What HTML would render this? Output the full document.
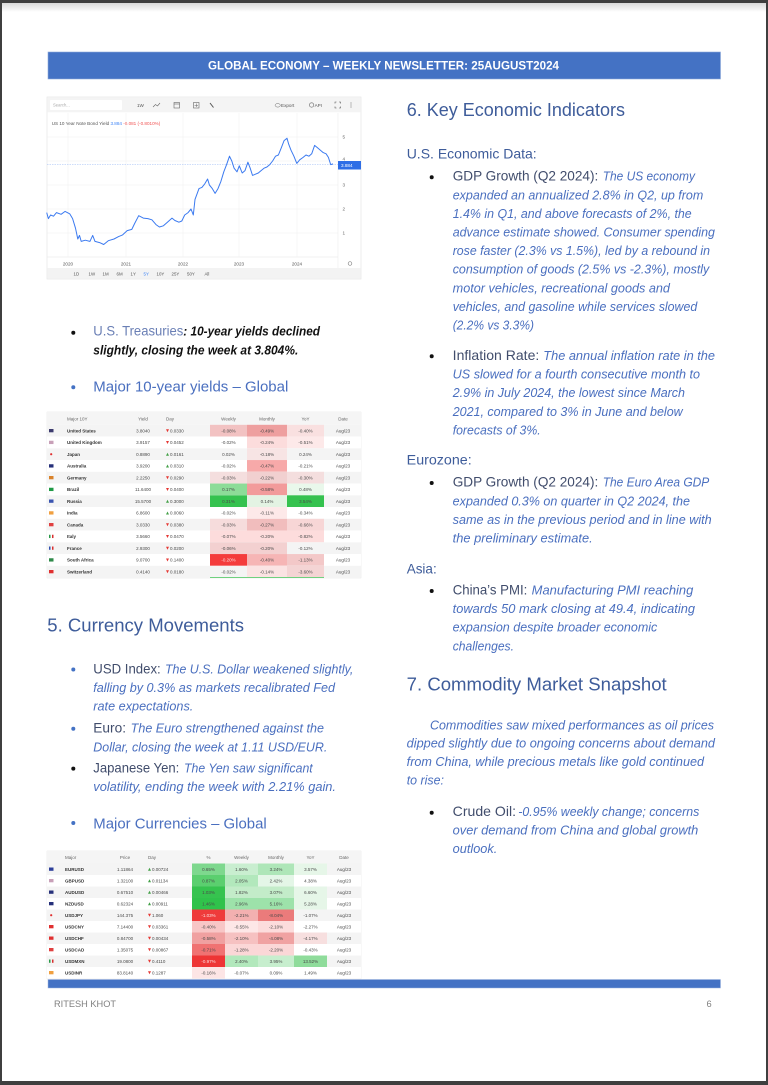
<!DOCTYPE html>
<html><head><meta charset="utf-8">
<style>
html,body{margin:0;padding:0;background:#3f3f3f;width:768px;height:1085px;overflow:hidden}
svg{display:block}
.ld{font-size:13.6px;fill:#414d6c}
.it{font-size:12.5px;font-style:italic;fill:#4a6fbf}
.hd{font-size:18.4px;fill:#3e5c9a}
.sh{font-size:14px;fill:#3e5c9a}
.t text{font-size:4.5px;fill:#4a4a4a}
.t .n{font-weight:bold;fill:#333}
.t .m{text-anchor:middle}
.t .h{fill:#666}
</style></head>
<body>
<svg width="768" height="1085" viewBox="0 0 768 1085" xmlns="http://www.w3.org/2000/svg" font-family="Liberation Sans, Arial, sans-serif">
<defs>
<linearGradient id="sh" x1="0" y1="0" x2="0" y2="1"><stop offset="0" stop-color="#d9d9d9"/><stop offset="1" stop-color="#ffffff"/></linearGradient>
</defs>
<rect x="0" y="0" width="768" height="1085" fill="#3f3f3f"/>
<rect x="2" y="3" width="764" height="1078" fill="#ffffff"/>
<rect x="2" y="3" width="764" height="9" fill="url(#sh)"/>

<!-- header -->
<rect x="48" y="52" width="672.5" height="27" fill="#4472c4" stroke="#8eaadb" stroke-width="0.6"/>
<text x="208" y="69.3" font-size="11.5" font-weight="bold" fill="#ffffff" textLength="351" lengthAdjust="spacingAndGlyphs">GLOBAL ECONOMY – WEEKLY NEWSLETTER: 25AUGUST2024</text>

<!-- ============ CHART ============ -->
<g>
<rect x="47" y="97" width="314" height="182" fill="#fff" stroke="#e2e2e2" stroke-width="0.6"/>
<rect x="47.3" y="97.3" width="313.4" height="15" fill="#f4f4f4"/>
<rect x="50" y="100" width="72" height="10" fill="#fff" rx="1"/>
<text x="53" y="106.6" font-size="4.2" fill="#aaa">Search...</text>
<text x="137" y="106.8" font-size="4.6" fill="#555">1W</text>
<polyline points="153,107 155.5,104.5 157.5,106 160,103" stroke="#666" stroke-width="0.6" fill="none"/>
<rect x="174" y="102.5" width="5.5" height="5.5" stroke="#666" stroke-width="0.6" fill="none"/>
<line x1="174" y1="104" x2="179.5" y2="104" stroke="#666" stroke-width="0.6"/>
<rect x="193.5" y="102.5" width="5.5" height="5.5" stroke="#666" stroke-width="0.6" fill="none"/>
<line x1="196.25" y1="103.5" x2="196.25" y2="107" stroke="#666" stroke-width="0.5"/>
<line x1="194.5" y1="105.25" x2="198" y2="105.25" stroke="#666" stroke-width="0.5"/>
<line x1="210" y1="103" x2="213.5" y2="107.5" stroke="#555" stroke-width="1"/>
<ellipse cx="277.7" cy="105.3" rx="2.6" ry="1.8" fill="none" stroke="#666" stroke-width="0.5"/>
<text x="281" y="106.8" font-size="4.6" fill="#555">Export</text>
<circle cx="311.6" cy="105" r="2.2" fill="none" stroke="#666" stroke-width="0.6"/>
<text x="314.6" y="106.8" font-size="4.6" fill="#555">API</text>
<path d="M335,103.5v-1.5h1.5 M339,102h1.5v1.5 M340.5,106.5v1.5h-1.5 M336.5,108h-1.5v-1.5" stroke="#555" stroke-width="0.6" fill="none"/>
<circle cx="351" cy="103" r="0.5" fill="#555"/><circle cx="351" cy="105" r="0.5" fill="#555"/><circle cx="351" cy="107" r="0.5" fill="#555"/>
<text x="51.7" y="124.8" font-size="4.6" fill="#555">US 10 Year Note Bond Yield <tspan fill="#3b82f6">3.884</tspan><tspan fill="#f05252"> -0.081 (-0.8010%)</tspan></text>
<g stroke="#efefef" stroke-width="0.5">
<line x1="47" y1="137" x2="338" y2="137"/><line x1="47" y1="161" x2="338" y2="161"/><line x1="47" y1="185" x2="338" y2="185"/><line x1="47" y1="209" x2="338" y2="209"/><line x1="47" y1="233" x2="338" y2="233"/>
<line x1="68" y1="113" x2="68" y2="257"/><line x1="126" y1="113" x2="126" y2="257"/><line x1="183" y1="113" x2="183" y2="257"/><line x1="239" y1="113" x2="239" y2="257"/><line x1="297" y1="113" x2="297" y2="257"/>
</g>
<line x1="47" y1="257" x2="338" y2="257" stroke="#e6e6e6" stroke-width="0.6"/>
<line x1="338" y1="113" x2="338" y2="268" stroke="#ececec" stroke-width="0.6"/>
<g font-size="4.6" fill="#666">
<text x="342.5" y="138.6">5</text><text x="342.5" y="160.6">4</text><text x="342.5" y="186.6">3</text><text x="342.5" y="210.6">2</text><text x="342.5" y="234.6">1</text>
</g>
<g font-size="4.6" fill="#555" text-anchor="middle">
<text x="68" y="265.5">2020</text><text x="126" y="265.5">2021</text><text x="183" y="265.5">2022</text><text x="239" y="265.5">2023</text><text x="297" y="265.5">2024</text>
</g>
<circle cx="350" cy="263.5" r="1.8" fill="none" stroke="#888" stroke-width="0.7"/>
<line x1="47" y1="164.5" x2="338" y2="164.5" stroke="#9dbcf5" stroke-width="0.6" stroke-dasharray="1.5 1"/>
<polyline fill="none" stroke="#3b7af0" stroke-width="1" stroke-linejoin="round" points="46.7,212.6 48.4,218.6 50.6,215 53.5,216.2 56.5,212.6 61.1,214.3 65.1,211.4 69.7,213.8 72.6,218.6 75.5,228.2 77.8,239 79.5,235.4 81.2,241.4 85.3,240.2 89.9,241.4 92.7,235.4 95,241.4 99.6,242.6 103.7,244.5 108.3,240.7 114,239 118.6,236.6 122.6,234.9 127.2,230.6 131.8,229.4 134.7,223.4 138.7,215.7 143.3,218.1 147.9,218.6 151.9,219.8 156,224.6 159.4,227 163.4,225.8 167.4,222.2 172,218.1 174.9,220.5 178.9,222.2 181.8,221 184.7,215 188.1,212.6 191,209 193.3,215 195,199.4 199,188.6 201.9,187.4 204.8,183.8 207.6,179 209.4,185 212.3,188.6 215.1,193.4 218,188.6 220.9,181.4 223.8,171.8 226.6,164.6 229.5,156.2 231.8,161 234.1,168.2 237,171.8 239.3,165.8 242.2,173 245,170.6 247.9,162.2 250.2,168.2 252.5,175.4 255.4,174.2 258.3,173 261.1,170.6 264,168.2 266.9,167 269.8,164.6 272.6,161 275.5,156.2 278.4,155 281.3,147.8 284.1,140.6 287,138.2 288.7,144.2 291,150.2 293.9,156.2 296.8,163.4 299.7,159.8 303.1,157.4 306,155 308.9,156.2 311.7,153.8 314.6,145.4 317.5,147.8 320.4,150.2 323.2,152.6 326.1,153.8 328.4,157.4 330.7,164.6 333,163.9"/>
<rect x="338" y="161" width="23" height="8.5" fill="#2e6ee6"/>
<text x="341" y="167" font-size="4.6" fill="#fff">3.884</text>
<rect x="47.3" y="268" width="313.4" height="10.7" fill="#f3f3f3"/>
<g font-size="4.4" fill="#555">
<text x="73.5" y="275.3">1D</text><text x="88.5" y="275.3">1W</text><text x="102.5" y="275.3">1M</text><text x="116.5" y="275.3">6M</text><text x="130.5" y="275.3">1Y</text><text x="143.5" y="275.3" fill="#3b82f6">5Y</text><text x="156.5" y="275.3">10Y</text><text x="171.5" y="275.3">25Y</text><text x="187" y="275.3">50Y</text><text x="204.5" y="275.3">All</text>
</g>
</g>

<!-- ============ LEFT TEXT ============ -->
<circle cx="73.3" cy="332.7" r="2" fill="#111"/>
<text x="93.3" y="335.5" font-size="13.6" fill="#6a7fb5" textLength="90" lengthAdjust="spacingAndGlyphs">U.S. Treasuries</text>
<text x="183.3" y="335.5" font-size="12.5" font-weight="bold" font-style="italic" fill="#111" textLength="136.7" lengthAdjust="spacingAndGlyphs">: 10-year yields declined</text>
<text x="93.3" y="354.5" font-size="12.5" font-weight="bold" font-style="italic" fill="#111" textLength="205" lengthAdjust="spacingAndGlyphs">slightly, closing the week at 3.804%.</text>
<circle cx="73.3" cy="387.3" r="2" fill="#4472c4"/>
<text x="93.3" y="391.7" font-size="14.6" fill="#4a6fbf" textLength="195" lengthAdjust="spacingAndGlyphs">Major 10-year yields – Global</text>

<!-- ============ YIELDS TABLE ============ -->
<g class="t">
<rect x="47" y="412" width="314" height="166" fill="#fff" stroke="#e6e6e6" stroke-width="0.5"/>
<rect x="47" y="412" width="314" height="12.8" fill="#f5f5f5"/>
<text x="67" y="420.3" class="h">Major 10Y</text><text x="143" y="420.3" class="h m">Yield</text><text x="166" y="420.3" class="h">Day</text><text x="228.5" y="420.3" class="h m">Weekly</text><text x="267" y="420.3" class="h m">Monthly</text><text x="305.5" y="420.3" class="h m">YoY</text><text x="343" y="420.3" class="h m">Date</text>

<g transform="translate(0,424.8)"><rect x="47" width="314" height="11.75" fill="#f4f4f4"/><rect x="210" width="37" height="11.75" fill="#f2c2c2"/><rect x="247" width="40" height="11.75" fill="#ee9f9f"/><rect x="287" width="37" height="11.75" fill="#f9e0e0"/><rect x="49" y="4.2" width="4.5" height="3.3" fill="#3c3b6e"/><text x="67" y="7.6" class="n">United States</text><text x="143" y="7.6" class="m">3.8040</text><polygon points="166,4.5 169,4.5 167.5,7.5" fill="#e53935"/><text x="170" y="7.6">0.0330</text><text x="228.5" y="7.6" class="m">-0.08%</text><text x="267" y="7.6" class="m">-0.49%</text><text x="305.5" y="7.6" class="m">-0.40%</text><text x="343" y="7.6" class="m">Aug/23</text></g>
<g transform="translate(0,436.55)"><rect x="47" width="314" height="11.75" fill="#fff"/><rect x="247" width="40" height="11.75" fill="#fcdcdc"/><rect x="287" width="37" height="11.75" fill="#fde9e9"/><rect x="49" y="4.2" width="4.5" height="3.3" fill="#c8a0b8"/><text x="67" y="7.6" class="n">United Kingdom</text><text x="143" y="7.6" class="m">3.9157</text><polygon points="166,4.5 169,4.5 167.5,7.5" fill="#e53935"/><text x="170" y="7.6">0.0452</text><text x="228.5" y="7.6" class="m">-0.02%</text><text x="267" y="7.6" class="m">-0.24%</text><text x="305.5" y="7.6" class="m">-0.51%</text><text x="343" y="7.6" class="m">Aug/23</text></g>
<g transform="translate(0,448.3)"><rect x="47" width="314" height="11.75" fill="#f4f4f4"/><rect x="247" width="40" height="11.75" fill="#f7e4e4"/><circle cx="51.2" cy="5.9" r="1.1" fill="#e03030"/><text x="67" y="7.6" class="n">Japan</text><text x="143" y="7.6" class="m">0.8890</text><polygon points="166,7.5 169,7.5 167.5,4.5" fill="#43a047"/><text x="170" y="7.6">0.0161</text><text x="228.5" y="7.6" class="m">0.02%</text><text x="267" y="7.6" class="m">-0.18%</text><text x="305.5" y="7.6" class="m">0.24%</text><text x="343" y="7.6" class="m">Aug/23</text></g>
<g transform="translate(0,460.05)"><rect x="47" width="314" height="11.75" fill="#fff"/><rect x="247" width="40" height="11.75" fill="#f7a9a9"/><rect x="49" y="4.2" width="4.5" height="3.3" fill="#26307a"/><text x="67" y="7.6" class="n">Australia</text><text x="143" y="7.6" class="m">3.9200</text><polygon points="166,7.5 169,7.5 167.5,4.5" fill="#43a047"/><text x="170" y="7.6">0.0310</text><text x="228.5" y="7.6" class="m">-0.02%</text><text x="267" y="7.6" class="m">-0.47%</text><text x="305.5" y="7.6" class="m">-0.21%</text><text x="343" y="7.6" class="m">Aug/23</text></g>
<g transform="translate(0,471.8)"><rect x="47" width="314" height="11.75" fill="#f4f4f4"/><rect x="210" width="37" height="11.75" fill="#f4dede"/><rect x="247" width="40" height="11.75" fill="#f1d0d0"/><rect x="287" width="37" height="11.75" fill="#f4dede"/><rect x="49" y="4.2" width="4.5" height="3.3" fill="#d9822b"/><text x="67" y="7.6" class="n">Germany</text><text x="143" y="7.6" class="m">2.2250</text><polygon points="166,4.5 169,4.5 167.5,7.5" fill="#e53935"/><text x="170" y="7.6">0.0290</text><text x="228.5" y="7.6" class="m">-0.03%</text><text x="267" y="7.6" class="m">-0.22%</text><text x="305.5" y="7.6" class="m">-0.30%</text><text x="343" y="7.6" class="m">Aug/23</text></g>
<g transform="translate(0,483.55)"><rect x="47" width="314" height="11.75" fill="#fff"/><rect x="210" width="37" height="11.75" fill="#8ddc98"/><rect x="247" width="40" height="11.75" fill="#f29b9b"/><rect x="287" width="37" height="11.75" fill="#e9f8eb"/><rect x="49" y="4.2" width="4.5" height="3.3" fill="#1f9a45"/><text x="67" y="7.6" class="n">Brazil</text><text x="143" y="7.6" class="m">11.6400</text><polygon points="166,4.5 169,4.5 167.5,7.5" fill="#e53935"/><text x="170" y="7.6">0.0400</text><text x="228.5" y="7.6" class="m">0.17%</text><text x="267" y="7.6" class="m">-0.58%</text><text x="305.5" y="7.6" class="m">0.48%</text><text x="343" y="7.6" class="m">Aug/23</text></g>
<g transform="translate(0,495.3)"><rect x="47" width="314" height="11.75" fill="#f4f4f4"/><rect x="210" width="37" height="11.75" fill="#35c24f"/><rect x="247" width="40" height="11.75" fill="#e3f3e3"/><rect x="287" width="37" height="11.75" fill="#35c24f"/><rect x="49" y="4.2" width="4.5" height="3.3" fill="#3a55b0"/><text x="67" y="7.6" class="n">Russia</text><text x="143" y="7.6" class="m">15.5700</text><polygon points="166,7.5 169,7.5 167.5,4.5" fill="#43a047"/><text x="170" y="7.6">0.3000</text><text x="228.5" y="7.6" class="m">0.31%</text><text x="267" y="7.6" class="m">0.14%</text><text x="305.5" y="7.6" class="m">3.54%</text><text x="343" y="7.6" class="m">Aug/23</text></g>
<g transform="translate(0,507.05)"><rect x="47" width="314" height="11.75" fill="#fff"/><rect x="247" width="40" height="11.75" fill="#fde9e9"/><rect x="49" y="4.2" width="4.5" height="3.3" fill="#f0a040"/><text x="67" y="7.6" class="n">India</text><text x="143" y="7.6" class="m">6.8600</text><polygon points="166,7.5 169,7.5 167.5,4.5" fill="#43a047"/><text x="170" y="7.6">0.0060</text><text x="228.5" y="7.6" class="m">-0.02%</text><text x="267" y="7.6" class="m">-0.11%</text><text x="305.5" y="7.6" class="m">-0.34%</text><text x="343" y="7.6" class="m">Aug/23</text></g>
<g transform="translate(0,518.8)"><rect x="47" width="314" height="11.75" fill="#f4f4f4"/><rect x="210" width="37" height="11.75" fill="#f6dcdc"/><rect x="247" width="40" height="11.75" fill="#f1bdbd"/><rect x="287" width="37" height="11.75" fill="#f7d6d6"/><rect x="49" y="4.2" width="4.5" height="3.3" fill="#e04040"/><text x="67" y="7.6" class="n">Canada</text><text x="143" y="7.6" class="m">3.0330</text><polygon points="166,4.5 169,4.5 167.5,7.5" fill="#e53935"/><text x="170" y="7.6">0.0380</text><text x="228.5" y="7.6" class="m">-0.03%</text><text x="267" y="7.6" class="m">-0.27%</text><text x="305.5" y="7.6" class="m">-0.66%</text><text x="343" y="7.6" class="m">Aug/23</text></g>
<g transform="translate(0,530.55)"><rect x="47" width="314" height="11.75" fill="#fff"/><rect x="210" width="114" height="11.75" fill="#fddcdc"/><rect x="49" y="4.2" width="1.5" height="3.3" fill="#2a9a48"/><rect x="52" y="4.2" width="1.5" height="3.3" fill="#d83030"/><text x="67" y="7.6" class="n">Italy</text><text x="143" y="7.6" class="m">3.5660</text><polygon points="166,4.5 169,4.5 167.5,7.5" fill="#e53935"/><text x="170" y="7.6">0.0470</text><text x="228.5" y="7.6" class="m">-0.07%</text><text x="267" y="7.6" class="m">-0.20%</text><text x="305.5" y="7.6" class="m">-0.82%</text><text x="343" y="7.6" class="m">Aug/23</text></g>
<g transform="translate(0,542.3)"><rect x="47" width="314" height="11.75" fill="#f4f4f4"/><rect x="210" width="77" height="11.75" fill="#f3d0d0"/><rect x="49" y="4.2" width="1.5" height="3.3" fill="#3050b0"/><rect x="52" y="4.2" width="1.5" height="3.3" fill="#d83030"/><text x="67" y="7.6" class="n">France</text><text x="143" y="7.6" class="m">2.9300</text><polygon points="166,4.5 169,4.5 167.5,7.5" fill="#e53935"/><text x="170" y="7.6">0.0200</text><text x="228.5" y="7.6" class="m">-0.06%</text><text x="267" y="7.6" class="m">-0.20%</text><text x="305.5" y="7.6" class="m">-0.12%</text><text x="343" y="7.6" class="m">Aug/23</text></g>
<g transform="translate(0,554.05)"><rect x="47" width="314" height="11.75" fill="#fff"/><rect x="210" width="37" height="11.75" fill="#f43c3c"/><rect x="247" width="40" height="11.75" fill="#f6b5b5"/><rect x="287" width="37" height="11.75" fill="#f3c8c8"/><rect x="49" y="4.2" width="4.5" height="3.3" fill="#2f8a4a"/><text x="67" y="7.6" class="n">South Africa</text><text x="143" y="7.6" class="m">9.0700</text><polygon points="166,4.5 169,4.5 167.5,7.5" fill="#e53935"/><text x="170" y="7.6">0.1400</text><text x="228.5" y="7.6" class="m" style="fill:#fde0e0">-0.20%</text><text x="267" y="7.6" class="m">-0.40%</text><text x="305.5" y="7.6" class="m">-1.13%</text><text x="343" y="7.6" class="m">Aug/23</text></g>
<g transform="translate(0,565.8)"><rect x="47" width="314" height="11.75" fill="#f4f4f4"/><rect x="247" width="40" height="11.75" fill="#fbe3e3"/><rect x="287" width="37" height="11.75" fill="#f4d4d4"/><rect x="49" y="4.2" width="4.5" height="3.3" fill="#e03030"/><text x="67" y="7.6" class="n">Switzerland</text><text x="143" y="7.6" class="m">0.4140</text><polygon points="166,4.5 169,4.5 167.5,7.5" fill="#e53935"/><text x="170" y="7.6">0.0180</text><text x="228.5" y="7.6" class="m">-0.02%</text><text x="267" y="7.6" class="m">-0.14%</text><text x="305.5" y="7.6" class="m">-3.60%</text><text x="343" y="7.6" class="m">Aug/23</text></g>
<rect x="210" y="577" width="114" height="1" fill="#6fd17f"/>
</g>

<!-- ============ CURRENCY TEXT ============ -->
<text x="47.3" y="631.7" class="hd" textLength="196.7" lengthAdjust="spacingAndGlyphs">5. Currency Movements</text>
<circle cx="73.3" cy="669.5" r="2" fill="#4472c4"/>
<text x="93.3" y="673.3" class="ld" textLength="67.4" lengthAdjust="spacingAndGlyphs">USD Index:</text>
<text x="165" y="673.3" class="it" textLength="188.3" lengthAdjust="spacingAndGlyphs">The U.S. Dollar weakened slightly,</text>
<text x="93.3" y="692" class="it" textLength="241.7" lengthAdjust="spacingAndGlyphs">falling by 0.3% as markets recalibrated Fed</text>
<text x="93.3" y="710.7" class="it" textLength="100" lengthAdjust="spacingAndGlyphs">rate expectations.</text>
<circle cx="73.3" cy="728.8" r="2" fill="#4472c4"/>
<text x="93.3" y="732.7" class="ld" textLength="32.7" lengthAdjust="spacingAndGlyphs">Euro:</text>
<text x="130.7" y="732.7" class="it" textLength="193.3" lengthAdjust="spacingAndGlyphs">The Euro strengthened against the</text>
<text x="93.3" y="751.3" class="it" textLength="234" lengthAdjust="spacingAndGlyphs">Dollar, closing the week at 1.11 USD/EUR.</text>
<circle cx="73.3" cy="768.6" r="2" fill="#111"/>
<text x="93.3" y="772.5" class="ld" textLength="86" lengthAdjust="spacingAndGlyphs">Japanese Yen:</text>
<text x="184" y="772.5" class="it" textLength="128.7" lengthAdjust="spacingAndGlyphs">The Yen saw significant</text>
<text x="93.3" y="791.2" class="it" textLength="242.7" lengthAdjust="spacingAndGlyphs">volatility, ending the week with 2.21% gain.</text>
<circle cx="73.3" cy="823" r="2" fill="#4472c4"/>
<text x="93.3" y="828.3" font-size="14.6" fill="#4a6fbf" textLength="173.4" lengthAdjust="spacingAndGlyphs">Major Currencies – Global</text>

<!-- ============ CURRENCY TABLE ============ -->
<g class="t">
<rect x="47" y="851" width="314" height="128" fill="#fff" stroke="#e6e6e6" stroke-width="0.5"/>
<rect x="47" y="851" width="314" height="12.5" fill="#f5f5f5"/>
<text x="65" y="859.2" class="h">Major</text><text x="125" y="859.2" class="h m">Price</text><text x="148" y="859.2" class="h">Day</text><text x="208.5" y="859.2" class="h m">%</text><text x="241.5" y="859.2" class="h m">Weekly</text><text x="276" y="859.2" class="h m">Monthly</text><text x="310.5" y="859.2" class="h m">YoY</text><text x="344" y="859.2" class="h m">Date</text>

<g transform="translate(0,863.5)"><rect x="47" width="314" height="11.5" fill="#f4f4f4"/><rect x="192" width="33" height="11.5" fill="#7ed88e"/><rect x="225" width="33" height="11.5" fill="#c9eed0"/><rect x="258" width="36" height="11.5" fill="#aee6b8"/><rect x="294" width="33" height="11.5" fill="#e6f6e8"/><rect x="49" y="4" width="4.5" height="3.3" fill="#2d3f9a"/><text x="65" y="7.4" class="n">EURUSD</text><text x="125" y="7.4" class="m">1.11864</text><polygon points="148,7.3 151,7.3 149.5,4.3" fill="#43a047"/><text x="152" y="7.4">0.00724</text><text x="208.5" y="7.4" class="m">0.65%</text><text x="241.5" y="7.4" class="m">1.60%</text><text x="276" y="7.4" class="m">3.24%</text><text x="310.5" y="7.4" class="m">3.57%</text><text x="344" y="7.4" class="m">Aug/23</text></g>
<g transform="translate(0,875)"><rect x="47" width="314" height="11.5" fill="#fff"/><rect x="192" width="33" height="11.5" fill="#5bcf6f"/><rect x="225" width="33" height="11.5" fill="#b2e8bc"/><rect x="258" width="36" height="11.5" fill="#e4f6e7"/><rect x="49" y="4" width="4.5" height="3.3" fill="#c8a0b8"/><text x="65" y="7.4" class="n">GBPUSD</text><text x="125" y="7.4" class="m">1.32100</text><polygon points="148,7.3 151,7.3 149.5,4.3" fill="#43a047"/><text x="152" y="7.4">0.01134</text><text x="208.5" y="7.4" class="m">0.87%</text><text x="241.5" y="7.4" class="m">2.05%</text><text x="276" y="7.4" class="m">2.42%</text><text x="310.5" y="7.4" class="m">4.38%</text><text x="344" y="7.4" class="m">Aug/23</text></g>
<g transform="translate(0,886.5)"><rect x="47" width="314" height="11.5" fill="#f4f4f4"/><rect x="192" width="33" height="11.5" fill="#36c34f"/><rect x="225" width="33" height="11.5" fill="#c3ecc9"/><rect x="258" width="36" height="11.5" fill="#c3ecc9"/><rect x="294" width="33" height="11.5" fill="#e6f6e8"/><rect x="49" y="4" width="4.5" height="3.3" fill="#26307a"/><text x="65" y="7.4" class="n">AUDUSD</text><text x="125" y="7.4" class="m">0.67510</text><polygon points="148,7.3 151,7.3 149.5,4.3" fill="#43a047"/><text x="152" y="7.4">0.00466</text><text x="208.5" y="7.4" class="m">1.03%</text><text x="241.5" y="7.4" class="m">1.82%</text><text x="276" y="7.4" class="m">3.07%</text><text x="310.5" y="7.4" class="m">6.60%</text><text x="344" y="7.4" class="m">Aug/23</text></g>
<g transform="translate(0,898)"><rect x="47" width="314" height="11.5" fill="#fff"/><rect x="192" width="33" height="11.5" fill="#30c24b"/><rect x="225" width="33" height="11.5" fill="#9de2aa"/><rect x="258" width="36" height="11.5" fill="#9de2aa"/><rect x="294" width="33" height="11.5" fill="#e6f6e8"/><rect x="49" y="4" width="4.5" height="3.3" fill="#26307a"/><text x="65" y="7.4" class="n">NZDUSD</text><text x="125" y="7.4" class="m">0.62324</text><polygon points="148,7.3 151,7.3 149.5,4.3" fill="#43a047"/><text x="152" y="7.4">0.00911</text><text x="208.5" y="7.4" class="m">1.46%</text><text x="241.5" y="7.4" class="m">2.96%</text><text x="276" y="7.4" class="m">5.16%</text><text x="310.5" y="7.4" class="m">5.28%</text><text x="344" y="7.4" class="m">Aug/23</text></g>
<g transform="translate(0,909.5)"><rect x="47" width="314" height="11.5" fill="#f4f4f4"/><rect x="192" width="33" height="11.5" fill="#ef3b3b"/><rect x="225" width="33" height="11.5" fill="#f3b0b0"/><rect x="258" width="36" height="11.5" fill="#eb7b7b"/><circle cx="51.2" cy="5.7" r="1.1" fill="#e03030"/><text x="65" y="7.4" class="n">USDJPY</text><text x="125" y="7.4" class="m">144.375</text><polygon points="148,4.3 151,4.3 149.5,7.3" fill="#e53935"/><text x="152" y="7.4">1.060</text><text x="208.5" y="7.4" class="m" style="fill:#fde0e0">-1.03%</text><text x="241.5" y="7.4" class="m">-2.21%</text><text x="276" y="7.4" class="m">-8.04%</text><text x="310.5" y="7.4" class="m">-1.07%</text><text x="344" y="7.4" class="m">Aug/23</text></g>
<g transform="translate(0,921)"><rect x="47" width="314" height="11.5" fill="#fff"/><rect x="192" width="33" height="11.5" fill="#f8c6c6"/><rect x="225" width="33" height="11.5" fill="#fde7e7"/><rect x="258" width="36" height="11.5" fill="#fcdcdc"/><rect x="49" y="4" width="4.5" height="3.3" fill="#e03030"/><text x="65" y="7.4" class="n">USDCNY</text><text x="125" y="7.4" class="m">7.14400</text><polygon points="148,4.3 151,4.3 149.5,7.3" fill="#e53935"/><text x="152" y="7.4">0.03361</text><text x="208.5" y="7.4" class="m">-0.40%</text><text x="241.5" y="7.4" class="m">-0.55%</text><text x="276" y="7.4" class="m">-2.10%</text><text x="310.5" y="7.4" class="m">-2.27%</text><text x="344" y="7.4" class="m">Aug/23</text></g>
<g transform="translate(0,932.5)"><rect x="47" width="314" height="11.5" fill="#f4f4f4"/><rect x="192" width="33" height="11.5" fill="#f0a0a0"/><rect x="225" width="33" height="11.5" fill="#f6c1c1"/><rect x="258" width="36" height="11.5" fill="#f0a2a2"/><rect x="294" width="33" height="11.5" fill="#f7dfdf"/><rect x="49" y="4" width="4.5" height="3.3" fill="#e03030"/><text x="65" y="7.4" class="n">USDCHF</text><text x="125" y="7.4" class="m">0.84700</text><polygon points="148,4.3 151,4.3 149.5,7.3" fill="#e53935"/><text x="152" y="7.4">0.00434</text><text x="208.5" y="7.4" class="m">-0.58%</text><text x="241.5" y="7.4" class="m">-2.10%</text><text x="276" y="7.4" class="m">-4.08%</text><text x="310.5" y="7.4" class="m">-4.17%</text><text x="344" y="7.4" class="m">Aug/23</text></g>
<g transform="translate(0,944)"><rect x="47" width="314" height="11.5" fill="#fff"/><rect x="192" width="33" height="11.5" fill="#f07272"/><rect x="225" width="33" height="11.5" fill="#fbd7d7"/><rect x="258" width="36" height="11.5" fill="#fbd7d7"/><rect x="49" y="4" width="4.5" height="3.3" fill="#e04040"/><text x="65" y="7.4" class="n">USDCAD</text><text x="125" y="7.4" class="m">1.35075</text><polygon points="148,4.3 151,4.3 149.5,7.3" fill="#e53935"/><text x="152" y="7.4">0.00867</text><text x="208.5" y="7.4" class="m">-0.71%</text><text x="241.5" y="7.4" class="m">-1.28%</text><text x="276" y="7.4" class="m">-2.20%</text><text x="310.5" y="7.4" class="m">-0.43%</text><text x="344" y="7.4" class="m">Aug/23</text></g>
<g transform="translate(0,955.5)"><rect x="47" width="314" height="11.5" fill="#f4f4f4"/><rect x="192" width="33" height="11.5" fill="#ee3535"/><rect x="225" width="33" height="11.5" fill="#b2e8bc"/><rect x="258" width="36" height="11.5" fill="#c7eece"/><rect x="294" width="33" height="11.5" fill="#8fdc9b"/><rect x="49" y="4" width="1.5" height="3.3" fill="#2a9a48"/><rect x="52" y="4" width="1.5" height="3.3" fill="#d83030"/><text x="65" y="7.4" class="n">USDMXN</text><text x="125" y="7.4" class="m">19.0800</text><polygon points="148,4.3 151,4.3 149.5,7.3" fill="#e53935"/><text x="152" y="7.4">0.4110</text><text x="208.5" y="7.4" class="m" style="fill:#fde0e0">-0.97%</text><text x="241.5" y="7.4" class="m">2.40%</text><text x="276" y="7.4" class="m">3.95%</text><text x="310.5" y="7.4" class="m">13.52%</text><text x="344" y="7.4" class="m">Aug/23</text></g>
<g transform="translate(0,967)"><rect x="47" width="314" height="11.5" fill="#fff"/><rect x="192" width="33" height="11.5" fill="#fde5e5"/><rect x="49" y="4" width="4.5" height="3.3" fill="#f0a040"/><text x="65" y="7.4" class="n">USDINR</text><text x="125" y="7.4" class="m">83.8140</text><polygon points="148,4.3 151,4.3 149.5,7.3" fill="#e53935"/><text x="152" y="7.4">0.1287</text><text x="208.5" y="7.4" class="m">-0.16%</text><text x="241.5" y="7.4" class="m">-0.07%</text><text x="276" y="7.4" class="m">0.09%</text><text x="310.5" y="7.4" class="m">1.49%</text><text x="344" y="7.4" class="m">Aug/23</text></g>
</g>

<!-- ============ RIGHT COLUMN ============ -->
<text x="406.7" y="116" class="hd" textLength="218.3" lengthAdjust="spacingAndGlyphs">6. Key Economic Indicators</text>
<text x="406.7" y="158.3" class="sh" textLength="130" lengthAdjust="spacingAndGlyphs">U.S. Economic Data:</text>

<circle cx="431.7" cy="177.3" r="2" fill="#111"/>
<text x="452.7" y="180.7" class="ld" textLength="145.6" lengthAdjust="spacingAndGlyphs">GDP Growth (Q2 2024):</text>
<text x="602.7" y="180.7" class="it" textLength="92.3" lengthAdjust="spacingAndGlyphs">The US economy</text>
<text x="452.7" y="199.3" class="it" textLength="250.6" lengthAdjust="spacingAndGlyphs">expanded an annualized 2.8% in Q2, up from</text>
<text x="452.7" y="217.9" class="it" textLength="239" lengthAdjust="spacingAndGlyphs">1.4% in Q1, and above forecasts of 2%, the</text>
<text x="452.7" y="236.5" class="it" textLength="262.3" lengthAdjust="spacingAndGlyphs">advance estimate showed. Consumer spending</text>
<text x="452.7" y="255.1" class="it" textLength="257.3" lengthAdjust="spacingAndGlyphs">rose faster (2.3% vs 1.5%), led by a rebound in</text>
<text x="452.7" y="273.7" class="it" textLength="256.6" lengthAdjust="spacingAndGlyphs">consumption of goods (2.5% vs -2.3%), mostly</text>
<text x="452.7" y="292.3" class="it" textLength="217.3" lengthAdjust="spacingAndGlyphs">motor vehicles, recreational goods and</text>
<text x="452.7" y="310.9" class="it" textLength="244.6" lengthAdjust="spacingAndGlyphs">vehicles, and gasoline while services slowed</text>
<text x="452.7" y="329.5" class="it" textLength="81.3" lengthAdjust="spacingAndGlyphs">(2.2% vs 3.3%)</text>

<circle cx="431.7" cy="356.3" r="2" fill="#111"/>
<text x="452.7" y="360" class="ld" textLength="86.6" lengthAdjust="spacingAndGlyphs">Inflation Rate:</text>
<text x="543.3" y="360" class="it" textLength="171.7" lengthAdjust="spacingAndGlyphs">The annual inflation rate in the</text>
<text x="452.7" y="378.6" class="it" textLength="247.3" lengthAdjust="spacingAndGlyphs">US slowed for a fourth consecutive month to</text>
<text x="452.7" y="397.2" class="it" textLength="232.3" lengthAdjust="spacingAndGlyphs">2.9% in July 2024, the lowest since March</text>
<text x="452.7" y="415.8" class="it" textLength="230" lengthAdjust="spacingAndGlyphs">2021, compared to 3% in June and below</text>
<text x="452.7" y="434.4" class="it" textLength="88" lengthAdjust="spacingAndGlyphs">forecasts of 3%.</text>

<text x="406.7" y="464.5" class="sh" textLength="65" lengthAdjust="spacingAndGlyphs">Eurozone:</text>
<circle cx="431.7" cy="483" r="2" fill="#111"/>
<text x="452.7" y="486.7" class="ld" textLength="145.6" lengthAdjust="spacingAndGlyphs">GDP Growth (Q2 2024):</text>
<text x="602.7" y="486.7" class="it" textLength="106.6" lengthAdjust="spacingAndGlyphs">The Euro Area GDP</text>
<text x="452.7" y="505.3" class="it" textLength="237.3" lengthAdjust="spacingAndGlyphs">expanded 0.3% on quarter in Q2 2024, the</text>
<text x="452.7" y="523.9" class="it" textLength="259" lengthAdjust="spacingAndGlyphs">same as in the previous period and in line with</text>
<text x="452.7" y="542.5" class="it" textLength="140" lengthAdjust="spacingAndGlyphs">the preliminary estimate.</text>

<text x="406.7" y="573.5" class="sh" textLength="30" lengthAdjust="spacingAndGlyphs">Asia:</text>
<circle cx="431.7" cy="591" r="2" fill="#111"/>
<text x="452.7" y="594.5" class="ld" textLength="74.6" lengthAdjust="spacingAndGlyphs">China’s PMI:</text>
<text x="531.7" y="594.5" class="it" textLength="161.6" lengthAdjust="spacingAndGlyphs">Manufacturing PMI reaching</text>
<text x="452.7" y="613.1" class="it" textLength="242.3" lengthAdjust="spacingAndGlyphs">towards 50 mark closing at 49.4, indicating</text>
<text x="452.7" y="631.7" class="it" textLength="204.6" lengthAdjust="spacingAndGlyphs">expansion despite broader economic</text>
<text x="452.7" y="650.3" class="it" textLength="61.3" lengthAdjust="spacingAndGlyphs">challenges.</text>

<text x="406.7" y="690.7" class="hd" textLength="260" lengthAdjust="spacingAndGlyphs">7. Commodity Market Snapshot</text>
<text x="430" y="729.3" class="it" textLength="284" lengthAdjust="spacingAndGlyphs">Commodities saw mixed performances as oil prices</text>
<text x="406.7" y="747.7" class="it" textLength="308.3" lengthAdjust="spacingAndGlyphs">dipped slightly due to ongoing concerns about demand</text>
<text x="406.7" y="766.1" class="it" textLength="297.3" lengthAdjust="spacingAndGlyphs">from China, while precious metals like gold continued</text>
<text x="406.7" y="784.5" class="it" textLength="37.3" lengthAdjust="spacingAndGlyphs">to rise:</text>

<circle cx="431.7" cy="812.7" r="2" fill="#111"/>
<text x="452.7" y="816" class="ld" textLength="63.3" lengthAdjust="spacingAndGlyphs">Crude Oil:</text>
<text x="518.3" y="816" class="it" textLength="181" lengthAdjust="spacingAndGlyphs">-0.95% weekly change; concerns</text>
<text x="452.7" y="834.6" class="it" textLength="245.6" lengthAdjust="spacingAndGlyphs">over demand from China and global growth</text>
<text x="452.7" y="853.2" class="it" textLength="44.6" lengthAdjust="spacingAndGlyphs">outlook.</text>

<!-- footer -->
<rect x="48" y="979.5" width="672.5" height="8.5" fill="#4472c4" stroke="#9fb6e0" stroke-width="0.5"/>
<text x="54" y="1007" font-size="9.3" fill="#808080" textLength="62" lengthAdjust="spacingAndGlyphs">RITESH KHOT</text>
<text x="706.5" y="1007" font-size="9.3" fill="#808080">6</text>
</svg>
</body></html>
